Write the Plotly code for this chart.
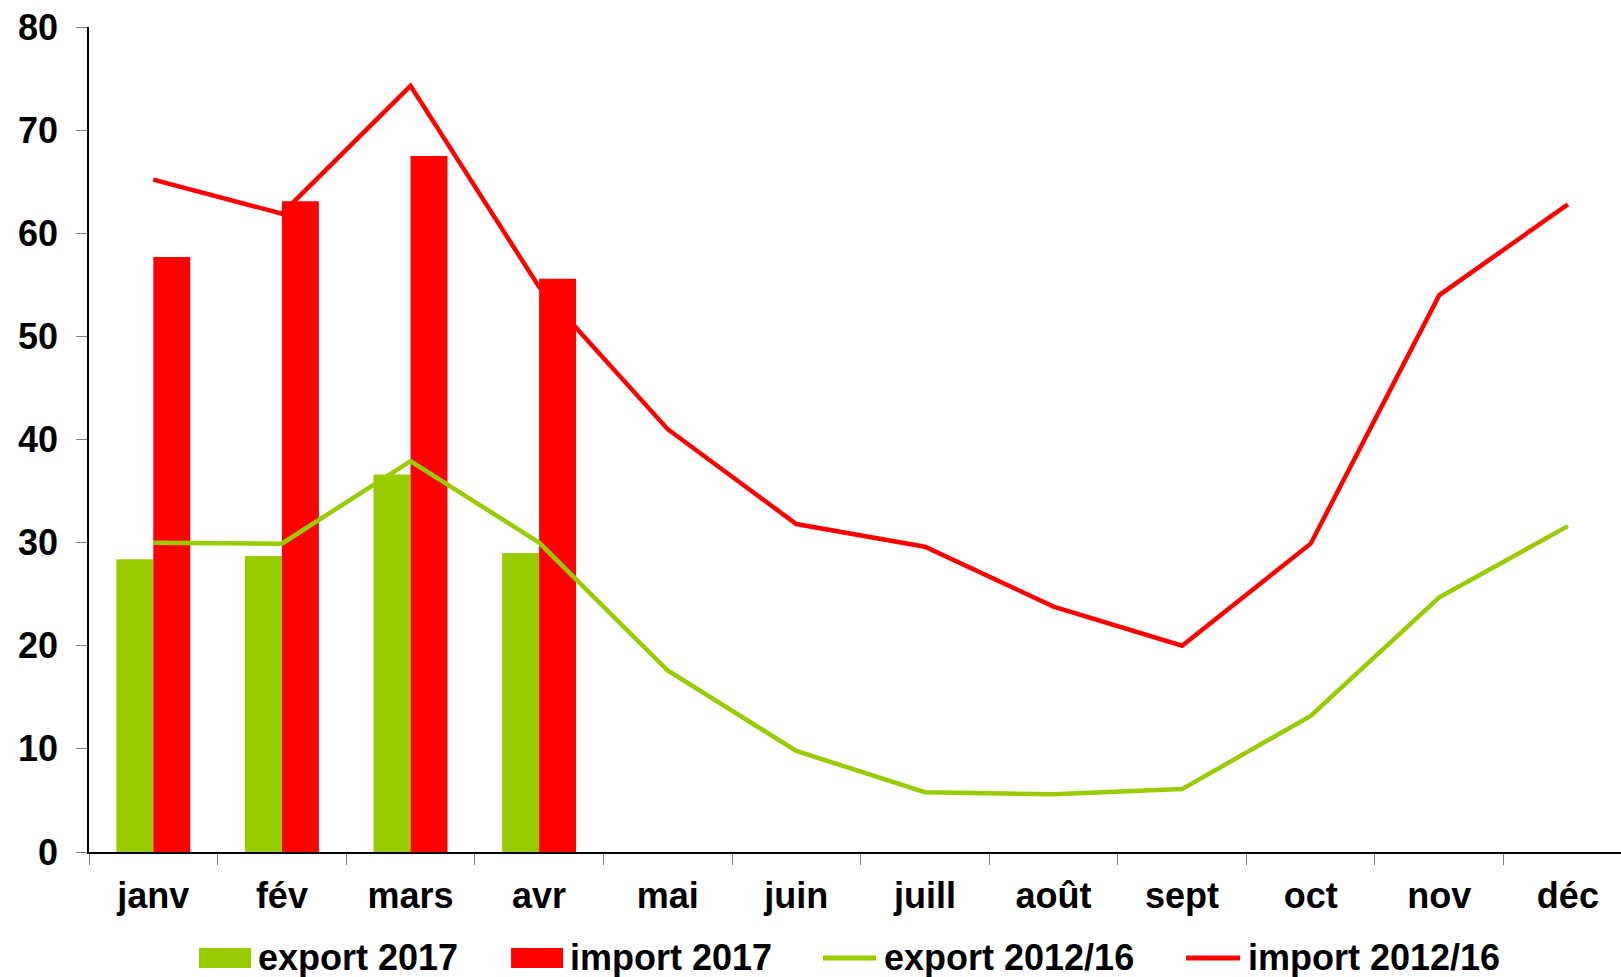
import plotly.graph_objects as go

months = ["janv", "fév", "mars", "avr", "mai", "juin", "juill", "août", "sept", "oct", "nov", "déc"]
export_2017 = [28.4, 28.7, 36.6, 29.0]
import_2017 = [57.7, 63.1, 67.5, 55.6]
export_2012_16 = [30.0, 29.9, 37.9, 30.0, 17.6, 9.8, 5.8, 5.6, 6.1, 13.2, 24.7, 31.6]
import_2012_16 = [65.2, 61.9, 74.3, 54.8, 41.0, 31.8, 29.6, 23.8, 20.0, 29.9, 54.0, 62.8]
yticks = [0, 10, 20, 30, 40, 50, 60, 70, 80]

GREEN = "#99CC00"
RED = "#FF0000"
FONT = "Liberation Sans"

fig = go.Figure()
fig.add_trace(go.Bar(x=months[:4], y=export_2017, name="export 2017",
                     marker=dict(color=GREEN, line=dict(width=0)), showlegend=False))
fig.add_trace(go.Bar(x=months[:4], y=import_2017, name="import 2017",
                     marker=dict(color=RED, line=dict(width=0)), showlegend=False))
fig.add_trace(go.Scatter(x=months, y=export_2012_16, name="export 2012/16", mode="lines",
                         line=dict(color=GREEN, width=4.5), showlegend=False))
fig.add_trace(go.Scatter(x=months, y=import_2012_16, name="import 2012/16", mode="lines",
                         line=dict(color=RED, width=4.5), showlegend=False))

# custom legend (paper coords)
legend_items = [
    ("rect", GREEN, 0.0718, 0.1057, 0.1091, "export 2017"),
    ("rect", RED, 0.2755, 0.3094, 0.3127, "import 2017"),
    ("line", GREEN, 0.4791, 0.5137, 0.5176, "export 2012/16"),
    ("line", RED, 0.7161, 0.7513, 0.7552, "import 2012/16"),
]
ymid = -0.1273
for kind, col, x0, x1, xt, label in legend_items:
    if kind == "rect":
        fig.add_shape(type="rect", xref="paper", yref="paper", x0=x0, x1=x1,
                      y0=-0.1164, y1=-0.1406, fillcolor=col, line=dict(width=0))
    else:
        fig.add_shape(type="line", xref="paper", yref="paper", x0=x0, x1=x1,
                      y0=-0.1285, y1=-0.1285, line=dict(color=col, width=5))
    fig.add_annotation(x=xt, y=ymid, xref="paper", yref="paper", text=label,
                       showarrow=False, xanchor="left", yanchor="middle",
                       font=dict(family=FONT, size=36, color="black", weight="bold"))

fig.update_layout(
    width=1621, height=977,
    margin=dict(l=89, r=0, t=27, b=125),
    paper_bgcolor="white", plot_bgcolor="white",
    barmode="group", bargap=0.425, bargroupgap=0,
    font=dict(family=FONT, size=36, color="black"),
)
fig.update_xaxes(
    type="category", range=[-0.5, 11.413],
    showline=True, linecolor="black", linewidth=1.5,
    ticks="outside", tickson="boundaries", ticklen=11, tickcolor="#808080", tickwidth=1,
    showgrid=False, tickfont=dict(family=FONT, size=36, color="black", weight="bold"),
    ticklabelstandoff=11,
)
fig.update_yaxes(
    range=[0, 80], tickvals=yticks,
    showline=True, linecolor="black", linewidth=1.5,
    ticks="outside", ticklen=11, tickcolor="#808080", tickwidth=1,
    showgrid=False, zeroline=False,
    tickfont=dict(family=FONT, size=36, color="black", weight="bold"),
    ticklabelstandoff=11,
)

fig.write_html("out.html", config={"displayModeBar": False},
               post_script="document.body.style.margin='0';document.body.style.overflow='hidden';")
